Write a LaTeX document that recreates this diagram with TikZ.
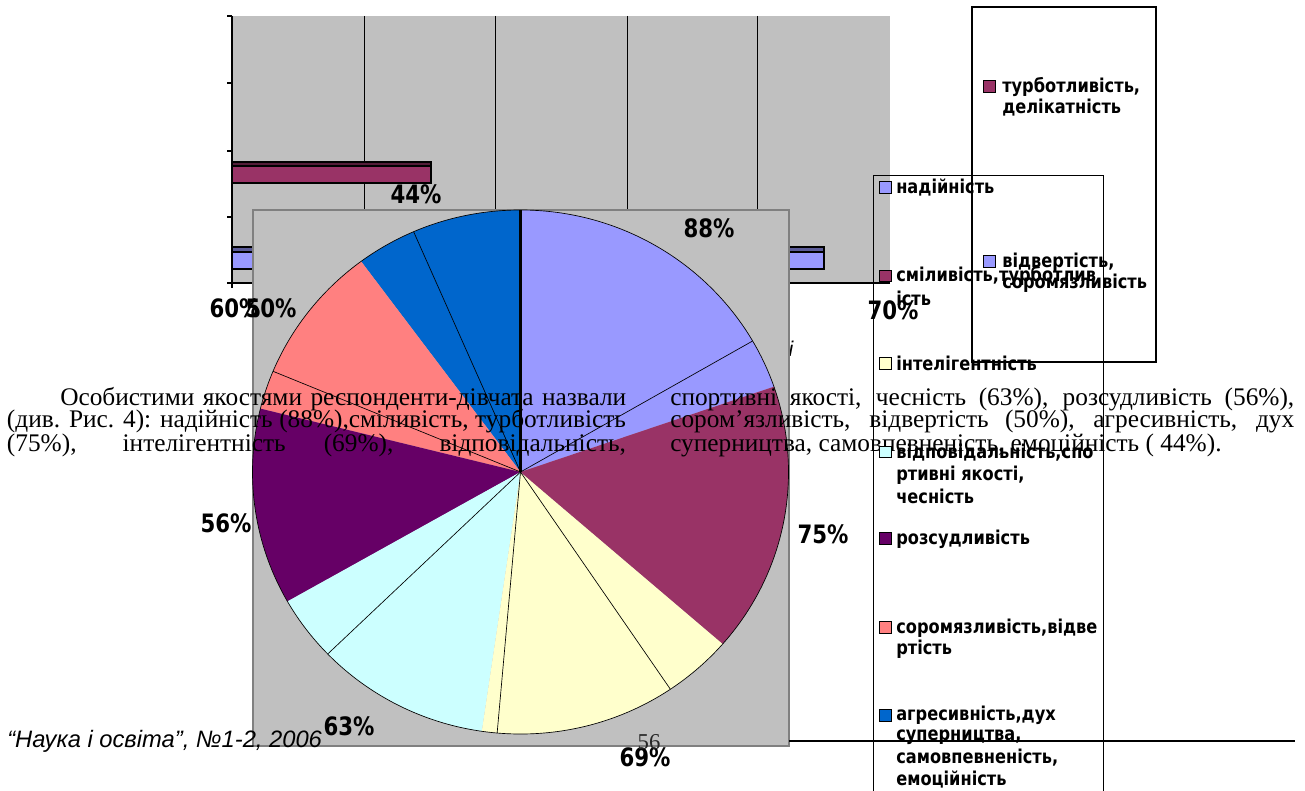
\documentclass[tikz,border=0pt]{standalone}
\usepackage{fontspec}
\setmainfont{Liberation Serif}
\newfontfamily\djv{DejaVu Sans}
\newfontfamily\lsans{Liberation Sans}
\usepackage{graphicx}
\definecolor{cgrey}{HTML}{C0C0C0}
\definecolor{clav}{HTML}{9999FF}
\definecolor{cmag}{HTML}{993366}
\definecolor{cyel}{HTML}{FFFFCC}
\definecolor{ccyan}{HTML}{CCFFFF}
\definecolor{cpur}{HTML}{660066}
\definecolor{cpink}{HTML}{FF8080}
\definecolor{cblue}{HTML}{0066CC}
\newcommand{\cnd}[1]{\scalebox{0.85}[1]{#1}}
\newcommand{\cndp}[1]{\scalebox{0.84}[1]{#1}}
\newcommand{\pieslice}[3]{\fill[#1] (pc) -- ++(#2:268 and 262) arc[start angle=#2, end angle=#3, x radius=268, y radius=262] -- cycle;}
\newcommand{\pieedge}[2]{\draw[black, line width=#2] (pc) -- ++(#1:268 and 262);}
\tikzset{
  pct/.style={font=\djv\bfseries\fontsize{19}{19}\selectfont, inner sep=0},
  legtext/.style={font=\djv\bfseries\fontsize{14.3}{14.3}\selectfont, anchor=west, inner sep=0},
  legsq/.style={draw=black, line width=0.6pt, minimum size=8.5pt, inner sep=0},
  para/.style={font=\fontsize{19}{19}\selectfont, anchor=base west, inner sep=0},
  grid/.style={black, line width=0.75pt},
  axis/.style={black, line width=1.1pt}
}
\begin{document}
\begin{tikzpicture}[x=0.75pt,y=-0.75pt]
\useasboundingbox (0,0) rectangle (1305,791);
\clip (0,0) rectangle (1305,791);
% ---- bar chart ----
\fill[cgrey] (232,16) rectangle (890,283);
\foreach \gx in {364,495,627,757} \draw[grid] (\gx,16) -- (\gx,283);
\filldraw[fill=cmag, draw=black, line width=0.8pt] (232,162) rectangle (431,183);
\filldraw[fill=cmag!55!black, draw=black, line width=0.8pt] (232,162) rectangle (431,166);
\filldraw[fill=clav, draw=black, line width=0.8pt] (232,247) rectangle (824,269);
\filldraw[fill=clav!60!black, draw=black, line width=0.8pt] (232,247) rectangle (824,252);
\draw[axis] (232,16) -- (232,288);
\draw[axis] (227,283) -- (890,283);
\foreach \ty in {16,83,151,217} \draw[axis] (227,\ty) -- (232,\ty);
\node[pct] (l44) at (416,194) {\cndp{44\%}};
\node[font=\lsans\itshape\fontsize{16}{16}\selectfont, inner sep=0] (itali) at (791,349) {і};
% ---- pie chart ----
\filldraw[fill=cgrey, draw=black!50, line width=0.8pt] (253,210) rectangle (789,746);
\coordinate (pc) at (520.5,472);
\pieslice{clav}{-19}{-90}
\pieslice{cblue}{-90}{-126.5}
\pieslice{cpink}{-126.5}{-166}
\pieslice{cpur}{-166}{-209.6}
\pieslice{ccyan}{-209.6}{-261.7}
\pieslice{cyel}{-261.7}{-319}
\pieslice{cmag}{-319}{-379}
\pieedge{-30}{0.5pt}
\pieedge{-113.5}{0.5pt}
\pieedge{-157.4}{0.5pt}
\pieedge{136}{0.5pt}
\pieedge{56}{0.5pt}
\pieedge{95}{0.5pt}
\pieedge{-90}{1.6pt}
\draw[black, line width=0.5pt] (pc) ellipse[x radius=268, y radius=262];
\node[pct] (l88) at (709,228) {\cndp{88\%}};
\node[pct] (l75) at (823,534) {\cndp{75\%}};
\node[pct] (l69) at (645,757) {\cndp{69\%}};
\node[pct] (l63) at (349,726) {\cndp{63\%}};
\node[pct] (l56) at (226,523) {\cndp{56\%}};
\node[pct] (l60) at (235,308) {\cndp{60\%}};
\node[pct] (l50) at (271,308) {\cndp{50\%}};
\node[pct] (l70) at (893,310) {\cndp{70\%}};
% ---- paragraph ----
\node[para] (p1l) at (60,405) {\makebox[424.5pt][s]{Особистими якостями респонденти-дівчата назвали}};
\node[para] (p2l) at (6.7,427) {\makebox[464.25pt][s]{(див. Рис. 4): надійність (88\%),сміливість, турботливість}};
\node[para] (p3l) at (6.7,451) {\makebox[464.25pt][s]{(75\%), інтелігентність (69\%), відповідальність,}};
\node[para] (p1r) at (670,405) {\makebox[468pt][s]{спортивні якості, чесність (63\%), розсудливість (56\%),}};
\node[para] (p2r) at (670,427) {\makebox[468pt][s]{сором’язливість, відвертість (50\%), агресивність, дух}};
\node[para] (p3r) at (670,451) {суперництва, самовпевненість, емоційність ( 44\%).};
% ---- legend 1 ----
\draw[black, line width=1.4pt] (972,7) rectangle (1156,362);
\node[legsq, fill=cmag] (q1a) at (989.5,86.5) {};
\node[legtext] (t1a) at (1002,87) {\cnd{турботливість,}};
\node[legtext] (t1b) at (1002,108) {\cnd{делікатність}};
\node[legsq, fill=clav] (q1b) at (989.5,261.5) {};
\node[legtext] (t1c) at (1002,262) {\cnd{відвертість,}};
\node[legtext] (t1d) at (1002,283) {\cnd{соромязливість}};
% ---- legend 2 ----
\draw[black, line width=0.75pt] (873,175.5) rectangle (1103,800);
\node[legsq, fill=clav] (q2a) at (885.5,187.5) {};
\node[legtext] (t2a) at (896,188) {\cnd{надійність}};
\node[legsq, fill=cmag] (q2b) at (885.5,276) {};
\node[legtext] (t2b) at (896,276.5) {\cnd{сміливість,турботлив}};
\node[legtext] (t2c) at (896,298) {\cnd{ість}};
\node[legsq, fill=cyel] (q2c) at (885.5,363.5) {};
\node[legtext] (t2d) at (896,363.5) {\cnd{інтелігентність}};
\node[legsq, fill=ccyan] (q2d) at (885.5,452) {};
\node[legtext] (t2e) at (896,453) {\cnd{відповідальність,спо}};
\node[legtext] (t2f) at (896,475) {\cnd{ртивні якості,}};
\node[legtext] (t2g) at (896,496) {\cnd{чесність}};
\node[legsq, fill=cpur] (q2e) at (885.5,538.5) {};
\node[legtext] (t2h) at (896,539) {\cnd{розсудливість}};
\node[legsq, fill=cpink] (q2f) at (885.5,627.5) {};
\node[legtext] (t2i) at (896,628) {\cnd{соромязливість,відве}};
\node[legtext] (t2j) at (896,649) {\cnd{ртість}};
\node[legsq, fill=cblue] (q2g) at (885.5,715.5) {};
\node[legtext] (t2k) at (896,715) {\cnd{агресивність,дух}};
\node[legtext] (t2l) at (896,737) {\cnd{суперництва,}};
\node[legtext] (t2m) at (896,758) {\cnd{самовпевненість,}};
\node[legtext] (t2n) at (896,780) {\cnd{емоційність}};
% ---- footer ----
\node[font=\lsans\itshape\fontsize{17.8}{17.8}\selectfont, anchor=west, inner sep=0] (foot) at (7,741) {“Наука і освіта”, №1-2, 2006};
\node[font=\fontsize{17}{17}\selectfont, text=black!85, inner sep=0] (pgn) at (649,742) {56};
\coordinate (fl1) at (789,741);
\coordinate (fl2) at (1295,741);
\draw[black, line width=1.1pt] (fl1) -- (fl2);
\end{tikzpicture}
\end{document}
